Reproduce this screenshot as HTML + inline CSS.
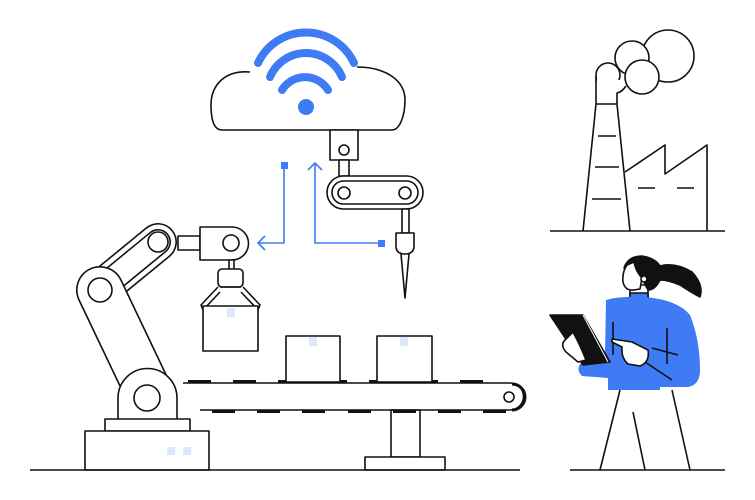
<!DOCTYPE html>
<html><head><meta charset="utf-8"><style>html,body{margin:0;padding:0;background:#fff}svg{display:block}</style></head><body>
<svg width="755" height="500" viewBox="0 0 755 500" xmlns="http://www.w3.org/2000/svg" fill="none" stroke="#111" stroke-width="1.6" stroke-linejoin="round">
<!-- cloud -->
<path d="M250,72 C225,70 211,85 211,105 C211,122 215,130 222,130 L392,130 C400,130 405,115 405,100 C405,80 385,67 357,67"/>
<g stroke="#3f7bf5" stroke-width="8" stroke-linecap="round">
<path d="M258,63 A53,53 0 0 1 354,63"/>
<path d="M270,77 A39,39 0 0 1 342,77"/>
<path d="M282,90 A27,27 0 0 1 328,90"/>
</g>
<circle cx="306" cy="107" r="8" fill="#3f7bf5" stroke="none"/>
<!-- top arm -->
<rect x="330" y="130" width="28" height="30" fill="#fff"/>
<circle cx="344" cy="150" r="5"/>
<rect x="339" y="160" width="10" height="16" fill="#fff"/>
<rect x="327" y="176" width="96" height="33" rx="16.5" fill="#fff"/>
<rect x="332" y="181" width="86" height="23" rx="11.5"/>
<circle cx="344" cy="193" r="6"/><circle cx="405" cy="193" r="6"/>
<rect x="402" y="209" width="7" height="24" fill="#fff"/>
<path d="M396,233 H414 V246 Q414,254 405,254 Q396,254 396,246 Z" fill="#fff"/>
<path d="M401,254 L405,298 L409,254"/>
<!-- blue connectors -->
<g stroke="#3f7bf5" stroke-width="1.6">
<path d="M284,166 V243 H258"/>
<path d="M265,236 L258,243 L265,250"/>
<path d="M315,163 V243 H380"/>
<path d="M308,170 L315,163 L322,170"/>
</g>
<rect x="281" y="162" width="7" height="7" fill="#3f7bf5" stroke="none"/>
<rect x="378" y="240" width="7" height="7" fill="#3f7bf5" stroke="none"/>
<!-- left robot arm: upper arm behind -->
<path d="M108,283 L158,242" stroke="#111" stroke-width="38" stroke-linecap="round"/>
<path d="M108,283 L158,242" stroke="#fff" stroke-width="34.8" stroke-linecap="round"/>
<path d="M108,283 L158,242" stroke="#111" stroke-width="26" stroke-linecap="round"/>
<path d="M108,283 L158,242" stroke="#fff" stroke-width="22.8" stroke-linecap="round"/>
<circle cx="158" cy="242" r="10"/>
<path d="M100,290 L150,395" stroke="#111" stroke-width="48" stroke-linecap="round"/>
<path d="M100,290 L150,395" stroke="#fff" stroke-width="44.8" stroke-linecap="round"/>
<circle cx="100" cy="290" r="12" fill="#fff"/>
<rect x="178" y="236" width="22" height="14" fill="#fff"/>
<path d="M200,227 H232 A16.5,16.5 0 0 1 232,260 H200 Z" fill="#fff"/>
<circle cx="231" cy="243" r="8"/>
<rect x="229" y="260" width="5" height="10" fill="#fff"/>
<rect x="218" y="269" width="25" height="18" rx="4" fill="#fff"/>
<path d="M218,287 L201,305 L203,310 L220,292 M243,287 L260,305 L258,310 L241,292"/>
<rect x="203" y="306" width="55" height="45" fill="#fff"/>
<path d="M220,287 H241"/>
<rect x="227" y="308" width="8" height="9" fill="#dde8fb" stroke="none"/>
<!-- base -->
<path d="M118,419 V398 A29,29 0 0 1 177,398 V419" fill="#fff"/>
<circle cx="147" cy="398" r="13"/>
<rect x="105" y="419" width="85" height="12" fill="#fff"/>
<rect x="85" y="431" width="124" height="39" fill="#fff"/>
<rect x="167" y="447" width="8" height="8" fill="#dde8fb" stroke="none"/>
<rect x="183" y="447" width="8" height="8" fill="#dde8fb" stroke="none"/>
<!-- conveyor -->
<path d="M183,383 H510 A13.5,13.5 0 0 1 510,410 H200"/>
<path d="M512,384 A13,13 0 0 1 512,410" stroke-width="3"/>
<circle cx="509" cy="397" r="5"/>
<g stroke="none" fill="#111">
<rect x="188" y="380" width="23" height="3"/><rect x="233" y="380" width="23" height="3"/>
<rect x="278" y="380" width="23" height="3"/><rect x="324" y="380" width="23" height="3"/>
<rect x="369" y="380" width="23" height="3"/><rect x="415" y="380" width="23" height="3"/>
<rect x="460" y="380" width="23" height="3"/>
<rect x="212" y="410" width="23" height="3"/><rect x="257" y="410" width="23" height="3"/>
<rect x="302" y="410" width="23" height="3"/><rect x="348" y="410" width="23" height="3"/>
<rect x="393" y="410" width="23" height="3"/><rect x="438" y="410" width="23" height="3"/>
<rect x="483" y="410" width="23" height="3"/>
</g>
<rect x="286" y="336" width="54" height="46" fill="#fff"/>
<rect x="377" y="336" width="55" height="46" fill="#fff"/>
<rect x="309" y="337" width="8" height="9" fill="#dde8fb" stroke="none"/>
<rect x="400" y="337" width="8" height="9" fill="#dde8fb" stroke="none"/>
<rect x="391" y="410" width="29" height="47"/>
<rect x="365" y="457" width="80" height="13" fill="#fff"/>
<path d="M30,470 H520"/>
<!-- factory -->
<path d="M550,231 H725"/>
<circle cx="668" cy="56" r="26" fill="#fff"/>
<circle cx="632" cy="58" r="17" fill="#fff"/>
<circle cx="642" cy="77" r="17" fill="#fff"/>
<circle cx="608" cy="75" r="12" fill="#fff"/>
<rect x="597" y="76" width="19" height="28" fill="#fff" stroke="none"/>
<rect x="610" y="80" width="14" height="14" fill="#fff" stroke="none"/>
<path d="M596,104 V76 M617,104 V93 Q622,92 626,86"/>
<path d="M583,231 L596,104 H617 L630,231"/>
<path d="M598,136 H616 M595,167 H619 M592,199 H621"/>
<path d="M625,172 L665,145 V174 L707,145 V231"/>
<path d="M638,188 H655 M677,188 H694"/>
<!-- woman -->
<path d="M570,470 H725"/>
<path d="M620,390 L600,470 M633,412 L645,470 M672,390 L690,470" />
<path d="M630,285 H648 V298 H630 Z" fill="#fff"/>
<path d="M624,268 Q628,256 642,256 Q655,258 660,266 Q675,262 692,272 Q704,285 700,297 Q692,293 680,285 Q668,280 660,280 Q655,290 648,290 L640,275 Z" fill="#111"/>
<path d="M627,265 Q622,272 623,282 Q625,291 634,290 L640,289 L642,278 Q636,272 634,262 Z" fill="#fff"/>
<circle cx="644" cy="279" r="3" fill="#fff"/>
<rect x="630" y="293" width="18" height="6" fill="#3f7bf5"/>
<path d="M606,300 Q620,296 645,297 Q678,300 690,315 Q700,340 700,370 Q700,385 688,387 L660,387 L660,390 L608,390 L608,378 L582,376 Q576,370 580,364 L605,355 Z" fill="#3f7bf5" stroke="none"/>
<path d="M613,322 V355 M667,328 V364 M652,348 L678,355 M645,362 L672,380"/>
<path d="M550,315 L583,315 L610,362 L583,365 Z" fill="#111"/>
<path d="M583,315 L608,362" stroke="#fff" stroke-width="1"/>
<path d="M565,340 Q560,345 566,352 L578,362 L586,360 Q580,345 573,332 Z" fill="#fff"/>
<path d="M612,339 L632,342 L648,350 Q650,362 640,366 L628,364 Q621,358 622,347 L612,342 Z" fill="#fff"/>
</svg>
</body></html>
